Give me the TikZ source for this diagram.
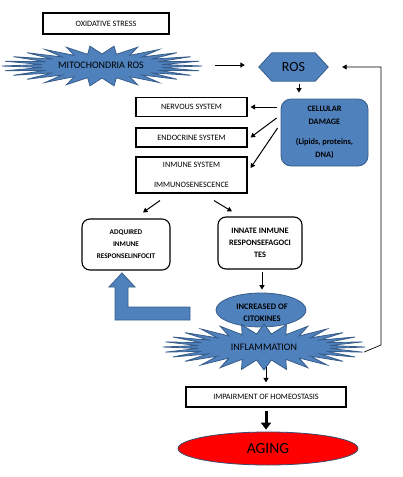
\documentclass[tikz,border=0pt]{standalone}
\usepackage{fontspec}
\setmainfont{Carlito}
\usetikzlibrary{shapes.geometric,arrows.meta,calc,backgrounds}
\definecolor{bfill}{HTML}{4F81BD}
\definecolor{bline}{HTML}{385D8A}
\definecolor{agline}{HTML}{3A4B6E}
% starburst: cx cy outerA outerB innerA innerB points
\newcommand\burstpath[7]{%
  \pgfmathsetmacro\bstep{180/#7}%
  \pgfmathtruncatemacro\blast{2*#7-1}%
  \filldraw[blueshape] ({#1+#3},#2) \foreach \i in {1,...,\blast}{
    -- ({#1+(#3-(#3-#5)*mod(\i,2))*cos(\i*\bstep)},{#2+(#4-(#4-#6)*mod(\i,2))*sin(\i*\bstep)}) } -- cycle;}
\begin{document}
\begin{tikzpicture}[x=1pt,y=-1pt,
  box/.style={draw=black,line width=1.1pt,fill=white,inner sep=1pt,align=center},
  rbox/.style={box,rounded corners=8pt},
  blueshape/.style={fill=bfill,draw=bline,line width=0.8pt},
  small/.style={font=\fontsize{8.2}{9}\selectfont},
  arr/.style={-{Triangle[length=4.5pt,width=5pt]},line width=1pt},
  thickarr/.style={-{Triangle[length=7pt,width=10pt]},line width=3pt},
  fbarr/.style={-{Triangle[length=4.5pt,width=5pt]},line width=0.7pt},
]
\useasboundingbox (0,0) rectangle (403,477);

% top
\node[box,small,minimum width=126pt,minimum height=21pt] (ox) at (106,23.5) {OXIDATIVE STRESS};

\burstpath{102}{66}{100}{20}{60}{12}{26}
\node[minimum width=200pt,minimum height=40pt,inner sep=0pt,font=\fontsize{10}{12}\selectfont] (mito) at (101,65) {MITOCHONDRIA ROS};

\node[minimum width=69pt,minimum height=28pt,inner sep=0pt,font=\fontsize{14}{16}\selectfont] (ros) at (293.5,67) {ROS};
\begin{scope}[on background layer]
\draw[blueshape] (ros.west) -- ($(ros.north west)+(13,0)$) -- ($(ros.north east)+(-13,0)$) -- (ros.east) -- ($(ros.south east)+(-13,0)$) -- ($(ros.south west)+(13,0)$) -- cycle;
\end{scope}

% cellular damage
\node[blueshape,rounded corners=10pt,minimum width=87pt,minimum height=67pt,align=center,inner sep=0pt,font=\bfseries\fontsize{8.3}{13}\selectfont] (cell) at (324.5,132.5) {CELLULAR\\DAMAGE\\[7pt](Lipids, proteins,\\DNA)};

% systems
\node[box,small,minimum width=111pt,minimum height=19pt] (nerv) at (191.5,107) {NERVOUS SYSTEM};
\node[box,small,minimum width=111pt,minimum height=19pt] (endo) at (191.5,137.5) {ENDOCRINE SYSTEM};
\node[box,small,minimum width=111pt,minimum height=36pt] (imm) at (191.5,175) {INMUNE SYSTEM\\[11pt]IMMUNOSENESCENCE};

% responses
\node[rbox,font=\bfseries\fontsize{7.2}{12}\selectfont,minimum width=88pt,minimum height=51pt] (adq) at (126,244.5) {ADQUIRED\\INMUNE\\RESPONSELINFOCIT};
\node[rbox,font=\bfseries\fontsize{8.3}{12}\selectfont,minimum width=84pt,minimum height=52pt] (inn) at (260,243) {INNATE INMUNE\\RESPONSEFAGOCI\\TES};

% citokines
\node[ellipse,blueshape,minimum width=90pt,minimum height=34pt,inner sep=0pt] (cito) at (261,310) {};
\node[align=center,inner sep=0pt,font=\bfseries\fontsize{8.5}{12}\selectfont] (citotext) at (262,313) {INCREASED OF\\CITOKINES};

% big bent arrow
\draw[blueshape] (190,307) -- (128,307) -- (128,287) -- (135,287) -- (122,273) -- (109,287) -- (115,287) -- (115,320) -- (190,320) -- cycle;

% inflammation
\burstpath{264}{347}{101}{23}{66}{13}{28}
\node[minimum width=202pt,minimum height=46pt,inner sep=0pt,font=\fontsize{10}{12}\selectfont] (infl) at (264,347) {INFLAMMATION};

% bottom
\node[box,small,minimum width=160pt,minimum height=20pt] (imp) at (266,397) {IMPAIRMENT OF HOMEOSTASIS};
\node[ellipse,fill=red,draw=agline,line width=0.8pt,minimum width=180pt,minimum height=33pt,inner sep=0pt,font=\fontsize{15.5}{17}\selectfont] (aging) at (268,448.5) {AGING};

% connectors
\draw[arr,shorten <=14pt,shorten >=14pt] (mito.east) -- (mito.east -| ros.west);
\draw[arr] ($(ros.south)+(5.5,3)$) -- ($(cell.north)+(-25.5,-6)$);
\draw[arr] ($(cell.west)+(-4,-25.5)$) -- ($(nerv.east)+(3,0)$);
\draw[arr] ($(cell.west)+(-4,-14.5)$) -- ($(endo.east)+(3,0)$);
\draw[arr] ($(cell.west)+(-3,-4.5)$) -- ($(imm.east)+(3,-7)$);
\draw[arr] ($(imm.south)+(-31.5,7)$) -- ($(adq.north)+(17,-6)$);
\draw[arr] ($(imm.south)+(22.5,7)$) -- ($(inn.north)+(-28,-5)$);
\draw[arr] ($(inn.south)+(2,2)$) -- ($(cito.north)+(1,-3)$);
\draw[arr] ($(imp.north)+(0,-19)$) -- ($(imp.north)+(0,-4)$);
\draw[thickarr] ($(imp.south)+(0,3)$) -- ($(aging.north)+(-2,-2)$);

\coordinate (fb1) at (381,345);
\coordinate (fb2) at (381,67);
\draw[fbarr,shorten >=14pt] ($(infl.east)+(-1,5)$) -- (fb1) -- (fb2) -- (ros.east);
\end{tikzpicture}
\end{document}
